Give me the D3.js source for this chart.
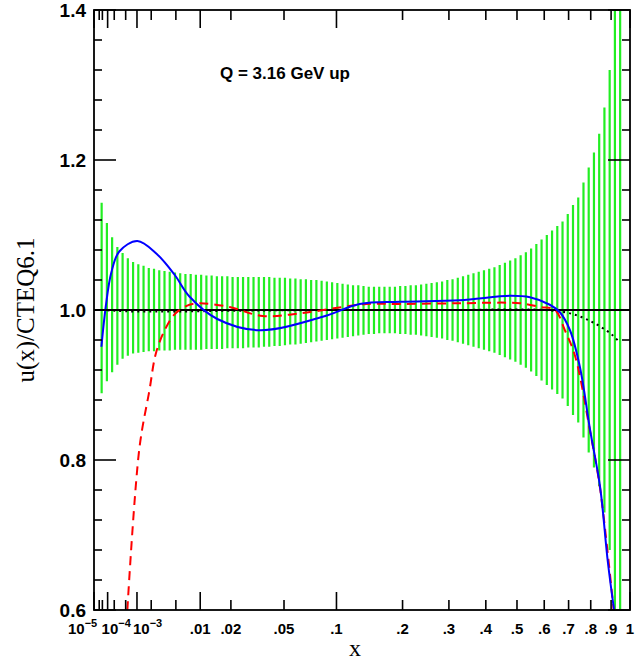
<!DOCTYPE html>
<html><head><meta charset="utf-8">
<script src="https://cdn.jsdelivr.net/npm/d3@7"></script>
<style>body{margin:0;background:#fff}</style></head>
<body><svg id="c" width="635" height="666"></svg>
<script>
// ---- data ----
const xMajorTicks = [1e-5, 1e-4, 1e-3, 0.01, 0.1, 1];
const xMidTicks = [0.02, 0.05, 0.2, 0.3, 0.4, 0.5, 0.6, 0.7, 0.8, 0.9];
const xMinorTicks = [3e-5, 5e-5, 2e-4, 5e-4, 2e-3, 5e-3];
const xTickLabels = [
  {x:1e-5, t:"10", e:"−5", dx:-26},
  {x:1e-4, t:"10", e:"−4", dx:-6},
  {x:1e-3, t:"10", e:"−3", dx:-4},
  {x:0.01, t:".01"},{x:0.02, t:".02"},{x:0.05, t:".05"},{x:0.1, t:".1"},
  {x:0.2, t:".2"},{x:0.3, t:".3"},{x:0.4, t:".4"},{x:0.5, t:".5"},
  {x:0.6, t:".6"},{x:0.7, t:".7"},{x:0.8, t:".8"},{x:0.9, t:".9"},{x:1, t:"1"}];
const yTickLabels = [0.6, 0.8, 1.0, 1.2, 1.4];
// error band: upper and lower deviations from 1, one per green bar (bars equally spaced in x^(1/3))
const bandUp = [.143,.116,.097,.084,.076,.069,.064,.061,.059,.056,.055,.053,.052,.051,.050,.049,.048,.048,.047,.047,
 .046,.046,.045,.045,.045,.044,.044,.044,.044,.044,.044,.044,.044,.043,.043,.043,.042,.042,.041,.041,
 .040,.040,.039,.038,.037,.036,.035,.034,.033,.033,.032,.031,.031,.031,.031,.031,.031,.032,.032,.033,
 .033,.034,.035,.036,.037,.038,.040,.041,.043,.045,.047,.049,.051,.053,.055,.057,.060,.063,.066,.069,
 .073,.077,.082,.088,.094,.100,.106,.112,.118,.128,.140,.150,.170,.190,.210,.235,.27,.32,.40,.6];
const bandDown = [.111,.095,.083,.073,.065,.061,.058,.057,.056,.055,.055,.054,.054,.054,.053,.053,.053,.053,.053,.053,
 .052,.052,.052,.052,.051,.051,.051,.051,.050,.050,.050,.049,.049,.048,.048,.047,.046,.046,.045,.044,
 .043,.042,.041,.040,.039,.038,.037,.036,.035,.034,.033,.032,.032,.031,.031,.031,.031,.032,.032,.033,
 .033,.034,.035,.036,.037,.038,.040,.041,.043,.045,.047,.049,.051,.053,.055,.057,.060,.063,.066,.069,
 .073,.077,.082,.088,.094,.100,.106,.112,.118,.128,.140,.150,.170,.190,.210,.235,.27,.32,.40,.6];
const bandU0 = 0.0355, bandU1 = 0.982;
const blueX = [4.3e-5,8e-5,1.5e-4,3.1e-4,1.02e-3,2.5e-3,4.8e-3,7.5e-3,0.015,0.034,0.0846,0.130,0.195,0.327,0.476,0.546,0.622,0.663,0.706,0.750,0.797,0.845,0.884,0.926];
const blueY = [0.951,1.005,1.050,1.078,1.092,1.075,1.047,1.018,0.988,0.973,0.991,1.008,1.011,1.013,1.019,1.017,1.007,0.997,0.973,0.924,0.840,0.764,0.663,0.58];
const redX = [5.6e-4,1.14e-3,1.85e-3,2.45e-3,3.6e-3,5.0e-3,7.5e-3,9.8e-3,0.0195,0.0357,0.065,0.107,0.140,0.195,0.327,0.510,0.584,0.643,0.684,0.729,0.797,0.845,0.921];
const redY = [0.60,0.816,0.893,0.943,0.977,0.996,1.007,1.009,1.004,0.992,0.996,1.004,1.008,1.008,1.009,1.009,1.004,1.0,0.973,0.938,0.838,0.762,0.58];
const blackX = [4.3e-5,2e-4,1e-3,5e-3,0.02,0.1,0.3,0.6,0.7,0.8,0.9,0.94];
const blackY = [1.0,0.999,0.998,0.998,0.999,1.0,1.0,1.0,0.996,0.985,0.968,0.958];

// ---- drawing ----
const svg = d3.select("#c");
const L=94, R=630, T=10, B=610;
const x = d3.scalePow().exponent(1/3).domain([1e-5,1]).range([L,R]);
const y = d3.scaleLinear().domain([0.6,1.4]).range([B,T]);
const defs = svg.append("defs");
defs.append("clipPath").attr("id","clip").append("rect").attr("x",L).attr("y",T).attr("width",R-L).attr("height",B-T);
const g = svg.append("g").attr("clip-path","url(#clip)");

const uScale = d3.scaleLinear().domain([0,bandUp.length-1]).range([bandU0,bandU1]);
g.selectAll("line.band").data(bandUp).join("line")
  .attr("x1",(d,i)=>x(Math.pow(uScale(i),3))).attr("x2",(d,i)=>x(Math.pow(uScale(i),3)))
  .attr("y1",d=>y(1+d)).attr("y2",(d,i)=>y(1-bandDown[i]))
  .attr("stroke","#22ee22").attr("stroke-width",2.2);

g.append("line").attr("x1",L).attr("x2",R).attr("y1",y(1)).attr("y2",y(1)).attr("stroke","#000").attr("stroke-width",1.8);

const line = (xs,ys)=>d3.line().curve(d3.curveCatmullRom.alpha(0.5))(xs.map((v,i)=>[x(v),y(ys[i])]));
g.append("path").attr("d",line(blackX,blackY)).attr("fill","none").attr("stroke","#000").attr("stroke-width",2).attr("stroke-dasharray","2,4");
g.append("path").attr("d",line(redX,redY)).attr("fill","none").attr("stroke","#ff0000").attr("stroke-width",2).attr("stroke-dasharray","9,6");
g.append("path").attr("d",line(blueX,blueY)).attr("fill","none").attr("stroke","#0000ff").attr("stroke-width",2);

// frame
svg.append("rect").attr("x",L).attr("y",T).attr("width",R-L).attr("height",B-T).attr("fill","none").attr("stroke","#000").attr("stroke-width",1.8);

const tk = svg.append("g").attr("stroke","#000").attr("stroke-width",1.6);
function xt(v,len){
  tk.append("line").attr("x1",x(v)).attr("x2",x(v)).attr("y1",B).attr("y2",B-len);
  tk.append("line").attr("x1",x(v)).attr("x2",x(v)).attr("y1",T).attr("y2",T+len);
}
xMajorTicks.forEach(v=>xt(v,18));
xMidTicks.forEach(v=>xt(v,10));
xMinorTicks.forEach(v=>xt(v,10));
d3.range(0,21).map(i=>0.6+i*0.04).forEach((v,i)=>{
  const len = (i%5===0)?22:8;
  tk.append("line").attr("x1",L).attr("x2",L+len).attr("y1",y(v)).attr("y2",y(v));
  tk.append("line").attr("x1",R).attr("x2",R-len).attr("y1",y(v)).attr("y2",y(v));
});

const font = "'Liberation Sans', Arial, sans-serif";
yTickLabels.forEach(v=>{
  svg.append("text").attr("x",L-8).attr("y",y(v)+7).attr("text-anchor","end")
    .attr("font-family",font).attr("font-size",19).attr("font-weight","bold").text(v.toFixed(1));
});
xTickLabels.forEach(d=>{
  const t = svg.append("text").attr("y",B+24).attr("font-family",font).attr("font-size",15).attr("font-weight","bold");
  if(d.e){
    t.attr("x",x(d.x)+d.dx).attr("text-anchor","start");
    t.append("tspan").text(d.t);
    t.append("tspan").attr("dy",-7).attr("font-size",11).text(d.e);
  } else {
    t.attr("x",x(d.x)).attr("text-anchor","middle").text(d.t);
  }
});
svg.append("text").attr("x",220).attr("y",79).attr("font-family",font).attr("font-size",17).attr("font-weight","bold").text("Q = 3.16 GeV up");
svg.append("text").attr("transform","translate(34,310) rotate(-90)").attr("text-anchor","middle")
  .attr("font-family","'Liberation Serif', serif").attr("font-size",25).text("u(x)/CTEQ6.1");
svg.append("text").attr("x",355).attr("y",656).attr("text-anchor","middle")
  .attr("font-family","'Liberation Serif', serif").attr("font-size",24).text("x");
</script></body></html>
